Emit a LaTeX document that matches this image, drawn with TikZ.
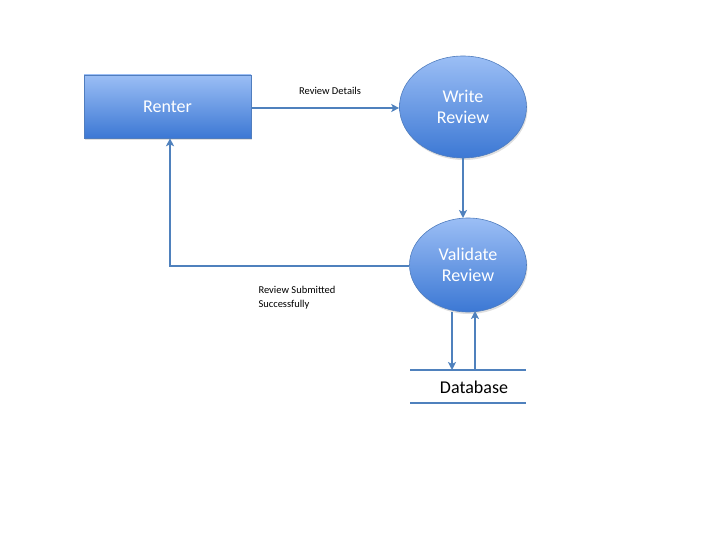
\documentclass[tikz,border=0pt]{standalone}
\usepackage{fontspec}
\setmainfont{Carlito}
\usetikzlibrary{shapes.geometric,arrows.meta,shadows}
\definecolor{topblue}{RGB}{155,190,245}
\definecolor{botblue}{RGB}{60,120,212}
\definecolor{edgeblue}{RGB}{80,125,190}
\definecolor{lineblue}{RGB}{79,129,189}
\begin{document}
\begin{tikzpicture}[x=1pt,y=-1pt,
  proc/.style={draw=edgeblue,line width=0.6pt,top color=topblue,bottom color=botblue,text=white,font=\fontsize{18}{21}\selectfont,
    drop shadow={shadow xshift=1pt,shadow yshift=-2pt,opacity=0.25}},
  flow/.style={draw=lineblue,line width=2.2pt,-{Stealth[length=8pt,width=8pt,inset=2pt]}},
  lbl/.style={font=\fontsize{10.5}{13.5}\selectfont,text=black}]
\useasboundingbox (0,0) rectangle (720,540);
\node[proc,rectangle,minimum width=167pt,minimum height=63pt,anchor=center] (renter) at (167.5,106.5) {Renter};
\node[proc,ellipse,minimum width=127pt,minimum height=102pt,inner sep=0pt,align=center] (write) at (463,107) {Write\\Review};
\node[proc,ellipse,minimum width=117pt,minimum height=94pt,inner sep=0pt,align=center] (valid) at (468,265) {Validate\\Review};
\coordinate (dbl1) at (410,370);
\coordinate (dbr1) at (526,370);
\coordinate (dbl2) at (410,403);
\coordinate (dbr2) at (526,403);
\draw[lineblue,line width=2.2pt] (dbl1) -- (dbr1);
\draw[lineblue,line width=2.2pt] (dbl2) -- (dbr2);
\node[font=\fontsize{18}{21}\selectfont] (db) at (474,387) {Database};
\draw[flow] (renter.east |- 0,108) -- (write.west |- 0,108);
\node[lbl] (rd) at (330,91) {Review Details};
\coordinate (vtop) at (463,218);
\draw[flow] (write.south) -- (vtop);
\coordinate (corner) at (170,266);
\draw[flow] (valid.west |- 0,266) -- (corner) -- (renter.south -| corner);
\node[lbl,align=left,anchor=north west] (rs) at (255,283) {Review Submitted\\Successfully};
\coordinate (dn) at (452,370);
\coordinate (up) at (475,370);
\draw[flow] (452,312) -- (dn);
\draw[flow] (up) -- (475,311);
\end{tikzpicture}
\end{document}
